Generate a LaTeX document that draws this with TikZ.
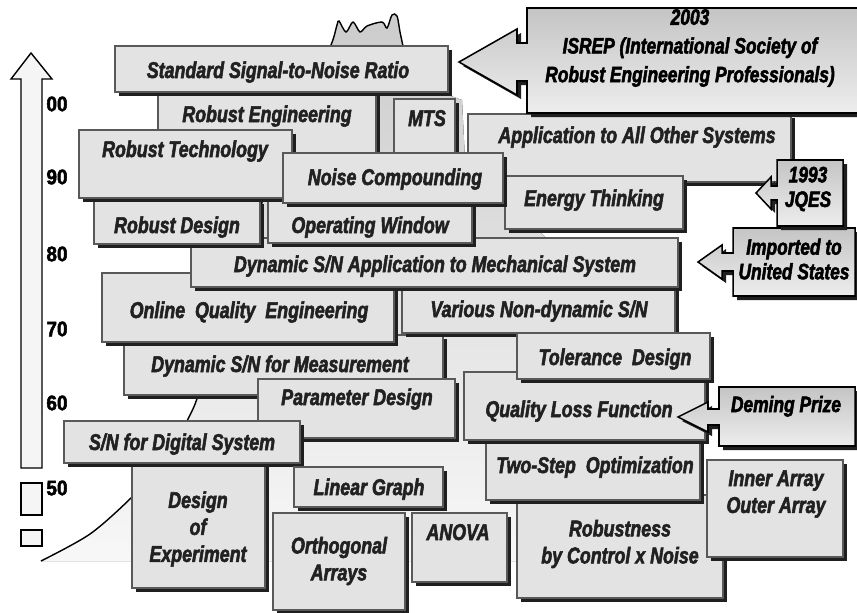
\documentclass[tikz,border=0pt]{standalone}
\usepackage{fontspec}
\usepackage{tikz}
\newfontfamily\cardfont{Liberation Sans Bold Italic}[FakeStretch=0.78, FakeBold=2.3]
\newfontfamily\axisfont{Liberation Sans Bold}[FakeStretch=0.9, FakeBold=2.3]

% box with drop shadow: name, corner, corner, label placement, label
\newcommand{\card}[5]{%
  \fill[cardshadow, shift={(4,4)}] #2 rectangle #3;
  \draw[cardbox] #2 rectangle #3;
  \node[cardtext, #4] (#1) {#5};}

% callout outline: x1, y1, x2, y2, tip x, tip y, barb x, barb half height, neck half height
\newcommand{\calloutpath}[9]{(#1,{#6-#9}) -- (#7,{#6-#9}) -- (#7,{#6-#8}) -- (#5,#6)
  -- (#7,{#6+#8}) -- (#7,{#6+#9}) -- (#1,{#6+#9}) -- (#1,#4) -- (#3,#4) -- (#3,#2) -- (#1,#2) -- cycle}

\begin{document}
\begin{tikzpicture}[x=0.3mm, y=-0.3mm,
    cardshadow/.style={fill=black!88},
    cardbox/.style={draw=black!65, fill=black!11, line width=0.9pt},
    cardtext/.style={font=\cardfont\fontsize{19.5}{23}\selectfont,
      text=black!87, align=center, inner sep=0pt, anchor=base},
    callbox/.style={draw=black, line width=1.3pt, top color=black!23, bottom color=black!7},
    calltext/.style={font=\cardfont\fontsize{19}{21}\selectfont,
      align=center, inner sep=0pt},
    yearlbl/.style={font=\axisfont\fontsize{18}{18}\selectfont, inner sep=0pt}]
    \useasboundingbox (0,0) rectangle (857,612);
    \clip (0,0) rectangle (857,612);

    % growth hill behind the boxes
    \fill[top color=black!20, bottom color=black!3]
        plot[smooth] coordinates {(41,561) (90,534) (132,497) (165,460) (190,415) (200,390)
          (230,300) (270,180) (310,90) (331,45) (337,25) (339,21) (346,32) (353,22) (360,32)
          (367,26) (382,22) (387,28) (392,15) (397,16) (400,32) (403,46)}
        -- (448,95) -- (462,100) -- (466,180) -- (540,232) -- (600,290) -- (660,340)
        -- (698,400) -- (697,470) -- (712,561) -- cycle;
    \draw[line width=1.2pt]
        plot[smooth] coordinates {(41,561) (90,534) (132,497) (165,460) (190,415) (200,390)
          (230,300) (270,180) (310,90) (331,45) (337,25) (339,21) (346,32) (353,22) (360,32)
          (367,26) (382,22) (387,28) (392,15) (397,16) (400,32) (403,46)};

    % time axis
    \draw[line width=1.2pt, fill=black!4] (21,468) -- (21,79) -- (11,79) -- (31,53)
        -- (52,79) -- (42,79) -- (42,468) -- cycle;
    \draw[line width=1.2pt, fill=black!4] (21,483) rectangle (42,515);
    \draw[line width=1.2pt, fill=black!4] (21,530) rectangle (42,546);
    \foreach \yr/\yy in {00/104, 90/177, 80/254, 70/329, 60/403, 50/488}
        \node[yearlbl] (yr\yr) at (57,\yy) {\yr};

    % boxes, back to front
    \card{robeng}{(158,90)}{(376,160)}{at={(267,122)}}{Robust Engineering}
    \card{mts}{(394,99)}{(455,160)}{at={(427,126)}}{MTS}
    \card{stdsn}{(115,46)}{(448,92)}{at={(278,78)}}{Standard Signal-to-Noise Ratio}
    \card{appl}{(468,114)}{(791,182)}{at={(637,143)}}{Application to All Other Systems}

    % 2003 callout
    \fill[cardshadow, shift={(4,4)}] \calloutpath{527}{8}{870}{113}{459}{62}{517}{33}{19};
    \draw[callbox] \calloutpath{527}{8}{870}{113}{459}{62}{517}{33}{19};
    \node[calltext, font=\cardfont\fontsize{19}{24.5}\selectfont] (isrep)
        at (690,48) {2003\\ISREP (International Society of\\Robust Engineering Professionals)};

    \card{energy}{(505,176)}{(683,229)}{at={(594,206)}}{Energy Thinking}
    \card{dynmeas}{(124,335)}{(443,395)}{at={(280,372)}}{Dynamic S/N for Measurement}
    \card{onlineqe}{(102,273)}{(394,342)}{at={(249,318)}}{Online\ \ Quality\ \ Engineering}
    \card{various}{(402,280)}{(675,333)}{at={(539,317)}}{Various Non-dynamic S/N}
    \card{dynapp}{(191,238)}{(678,287)}{at={(435,272)}}{Dynamic S/N Application to Mechanical System}
    \card{robdes}{(94,200)}{(260,244)}{at={(177,233)}}{Robust Design}
    \card{opwin}{(268,200)}{(472,243)}{at={(370,233)}}{Operating Window}
    \card{robtech}{(79,130)}{(292,198)}{at={(185,157)}}{Robust Technology}
    \card{noise}{(283,153)}{(503,203)}{at={(395,185)}}{Noise Compounding}
    \card{robustness}{(517,495)}{(723,598)}{anchor=center, at={(620,544)}}{Robustness\\by Control x Noise}
    \card{twostep}{(486,435)}{(700,500)}{at={(595,473)}}{Two-Step\ \ Optimization}
    \card{qlf}{(464,372)}{(705,440)}{at={(579,417)}}{Quality Loss Function}
    \card{tolerance}{(517,333)}{(710,379)}{at={(615,365)}}{Tolerance\ \ Design}
    \card{param}{(258,379)}{(455,438)}{at={(357,405)}}{Parameter Design}
    \card{doe}{(132,455)}{(265,588)}{anchor=center, at={(198,529)}}{Design\\of\\Experiment}
    \card{sndig}{(64,421)}{(300,463)}{at={(182,450)}}{S/N for Digital System}
    \card{lingraph}{(294,467)}{(443,507)}{at={(369,495)}}{Linear Graph}
    \card{ortho}{(273,513)}{(405,610)}{anchor=center, at={(339,561)}}{Orthogonal\\Arrays}
    \card{anova}{(412,513)}{(507,582)}{at={(458,540)}}{ANOVA}
    \card{innerarr}{(707,460)}{(843,557)}{anchor=center, at={(776,494)}}{Inner Array\\Outer Array}

    % small callouts
    \fill[cardshadow, shift={(4,4)}] \calloutpath{733}{228}{855}{296}{698}{262}{722}{17}{9};
    \draw[callbox] \calloutpath{733}{228}{855}{296}{698}{262}{722}{17}{9};
    \node[calltext] (imported) at (794,259) {Imported to\\United States};
    \fill[cardshadow, shift={(4,4)}] \calloutpath{777}{160}{843}{226}{756}{193}{771}{16}{7};
    \draw[callbox] \calloutpath{777}{160}{843}{226}{756}{193}{771}{16}{7};
    \node[calltext] (jqes) at (808,189) {1993\\JQES};
    \fill[cardshadow, shift={(4,4)}] \calloutpath{719}{387}{855}{446}{678}{417}{708}{15}{8};
    \draw[callbox] \calloutpath{719}{387}{855}{446}{678}{417}{708}{15}{8};
    \node[calltext, anchor=base] (deming) at (786,412) {Deming Prize};
\end{tikzpicture}
\end{document}
